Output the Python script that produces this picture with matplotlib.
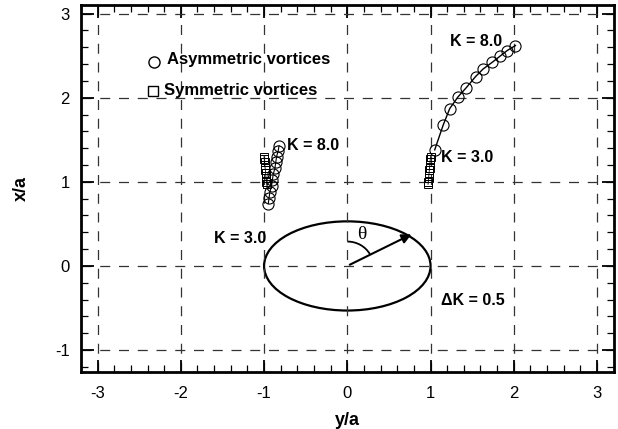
import numpy as np
import matplotlib
matplotlib.use("Agg")
import matplotlib.pyplot as plt
from matplotlib.patches import Ellipse, Arc
from matplotlib.ticker import MultipleLocator

plt.rcParams['font.family'] = ['Liberation Sans', 'DejaVu Sans']
plt.rcParams['axes.unicode_minus'] = False

# asymmetric vortices, K = 3.0 ... 8.0 (step 0.5)
asym_right_y = [1.05, 1.15, 1.23, 1.33, 1.43, 1.54, 1.63, 1.74, 1.83, 1.92, 2.02]
asym_right_x = [1.38, 1.67, 1.87, 2.01, 2.12, 2.25, 2.34, 2.42, 2.49, 2.56, 2.62]
asym_left_y = [-0.95, -0.94, -0.93, -0.91, -0.90, -0.89, -0.87, -0.86, -0.85, -0.83, -0.82]
asym_left_x = [0.74, 0.81, 0.88, 0.95, 1.02, 1.09, 1.16, 1.23, 1.30, 1.37, 1.43]

# symmetric vortices
sym_right_y = [0.97, 0.973, 0.976, 0.979, 0.982, 0.985, 0.988, 0.991, 0.994, 0.997, 1.0]
sym_right_x = [0.97, 1.00, 1.04, 1.07, 1.10, 1.14, 1.17, 1.20, 1.24, 1.27, 1.30]
sym_left_y = [-v for v in sym_right_y]
sym_left_x = sym_right_x

fig = plt.figure(figsize=(6.18, 4.29), dpi=100)
ax = fig.add_axes([0.131, 0.133, 0.862, 0.855])

ax.plot(asym_right_y, asym_right_x, '-', color='black', lw=1.0,
        marker='o', ms=8, mfc='none', mec='black', mew=0.8)
ax.plot(asym_left_y, asym_left_x, '-', color='black', lw=0.8,
        marker='o', ms=8, mfc='none', mec='black', mew=0.8)
ax.plot(sym_right_y, sym_right_x, '-', color='black', lw=0.6,
        marker='s', ms=6, mfc='none', mec='black', mew=0.7)
ax.plot(sym_left_y, sym_left_x, '-', color='black', lw=0.6,
        marker='s', ms=6, mfc='none', mec='black', mew=0.7)

# cylinder
ax.add_patch(Ellipse((0, 0), 2.0, 1.06, fill=False, lw=1.6, color='black'))
ax.annotate('', xy=(0.8, 0.39), xytext=(0, 0),
            arrowprops=dict(arrowstyle='-|>', color='black', lw=1.5,
                            mutation_scale=14))
ax.add_patch(Arc((0, 0), 0.62, 0.58, theta1=27, theta2=90, lw=1.3, color='black'))
ax.text(0.12, 0.27, 'θ', fontsize=14, ha='left', va='bottom',
        family=['Liberation Serif', 'DejaVu Serif'])

bold = dict(fontsize=11.5, fontweight='bold')
ax.text(-0.72, 1.43, 'K = 8.0', ha='left', va='center', **bold)
ax.text(-0.97, 0.33, 'K = 3.0', ha='right', va='center', **bold)
ax.text(1.86, 2.67, 'K = 8.0', ha='right', va='center', **bold)
ax.text(1.13, 1.29, 'K = 3.0', ha='left', va='center', **bold)
ax.text(1.12, -0.41, 'ΔK = 0.5', ha='left', va='center', **bold)

# legend drawn as in the original
ax.plot([-2.32], [2.42], 'o', ms=8, mfc='none', mec='black', mew=1.0)
ax.text(-2.17, 2.45, 'Asymmetric vortices', ha='left', va='center', fontsize=12, fontweight='bold')
ax.plot([-2.34], [2.08], 's', ms=7, mfc='none', mec='black', mew=1.0)
ax.text(-2.2, 2.08, 'Symmetric vortices', ha='left', va='center', fontsize=12, fontweight='bold')

ax.set_xlim(-3.2, 3.2)
ax.set_ylim(-1.26, 3.1)
ax.xaxis.set_major_locator(MultipleLocator(1))
ax.yaxis.set_major_locator(MultipleLocator(1))
ax.xaxis.set_minor_locator(MultipleLocator(0.2))
ax.yaxis.set_minor_locator(MultipleLocator(0.2))
ax.tick_params(which='both', direction='in', top=True, right=True, labelsize=12)
ax.tick_params(which='major', length=9, width=1.3)
ax.tick_params(axis='x', which='major', pad=10)
ax.tick_params(axis='y', which='major', pad=8)
ax.tick_params(which='minor', length=5, width=0.9)
for s in ax.spines.values():
    s.set_linewidth(2.0)
ax.grid(True, which='major', color='#333333', ls=(0, (8, 7)), lw=0.9)

ax.set_xlabel('y/a', fontsize=13, fontweight='bold', labelpad=8)
ax.set_ylabel('x/a', fontsize=13, fontweight='bold', labelpad=18)

fig.savefig('out.png', dpi=100)
